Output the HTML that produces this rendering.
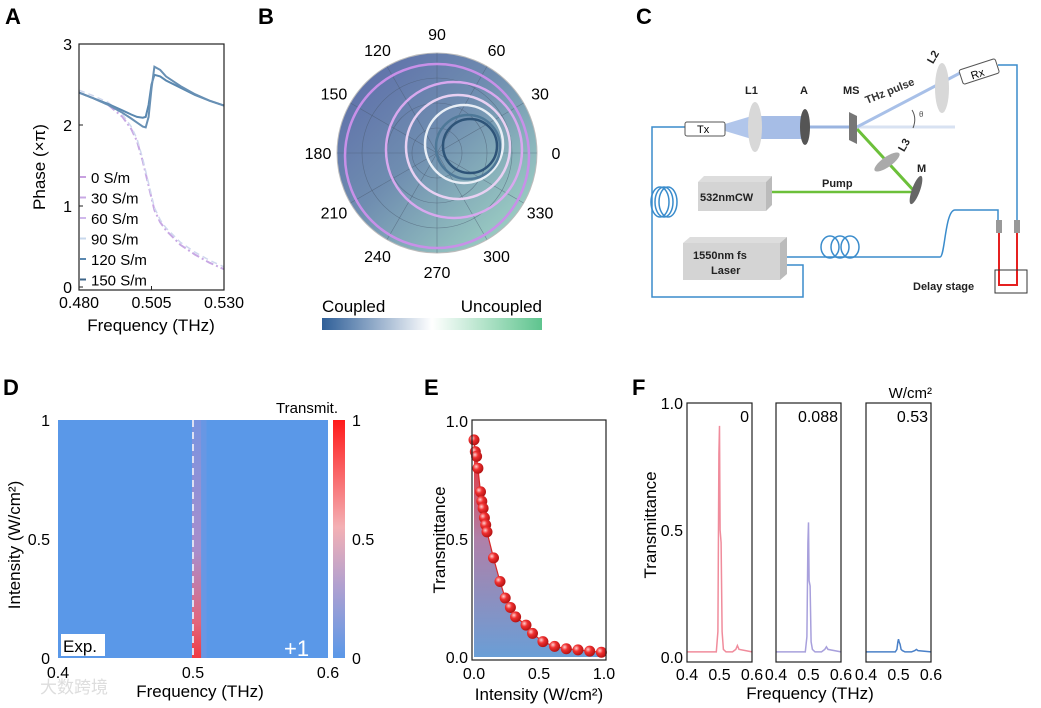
<!DOCTYPE html>
<html><head><meta charset="utf-8"><style>
html,body{margin:0;padding:0;background:#fff;}
svg{display:block;font-family:"Liberation Sans",Arial,sans-serif;}
</style></head><body>
<svg id="fig" width="1041" height="708" viewBox="0 0 1041 708" xmlns="http://www.w3.org/2000/svg">
<defs>
<linearGradient id="polarBg" x1="0" y1="0" x2="1" y2="1">
<stop offset="0" stop-color="#5a68a8"/><stop offset="0.45" stop-color="#6f8db0"/><stop offset="1" stop-color="#a8e0c8"/></linearGradient>
<linearGradient id="cbB" x1="0" y1="0" x2="1" y2="0">
<stop offset="0" stop-color="#2f5f98"/><stop offset="0.5" stop-color="#ffffff"/><stop offset="1" stop-color="#5ec48e"/></linearGradient>
<linearGradient id="cbD" x1="0" y1="0" x2="0" y2="1">
<stop offset="0" stop-color="#ff1a1a"/><stop offset="0.45" stop-color="#f4b0b4"/><stop offset="0.7" stop-color="#b0a0d0"/><stop offset="1" stop-color="#5a98e8"/></linearGradient>
<linearGradient id="stripeD" x1="0" y1="1" x2="0" y2="0">
<stop offset="0" stop-color="#ff3030"/><stop offset="0.15" stop-color="#f06070"/><stop offset="0.45" stop-color="#b08cc8"/><stop offset="1" stop-color="#7a94e0"/></linearGradient>
<linearGradient id="areaE" x1="0" y1="0" x2="0" y2="1">
<stop offset="0" stop-color="#f02828"/><stop offset="0.45" stop-color="#b080a8"/><stop offset="1" stop-color="#6a9ed6"/></linearGradient>
<radialGradient id="ball" cx="0.35" cy="0.35" r="0.7">
<stop offset="0" stop-color="#ffd0d0"/><stop offset="0.4" stop-color="#f03030"/><stop offset="1" stop-color="#b01010"/></radialGradient>
</defs>

<g font-weight="bold" font-size="22" fill="#000">
<text x="5" y="24">A</text>
<text x="258" y="24">B</text>
<text x="636" y="24">C</text>
<text x="3" y="395">D</text>
<text x="424" y="395">E</text>
<text x="632" y="395">F</text>
</g>

<g id="panelA"></g>
<g id="panelB"></g>

<g id="panelC" font-weight="bold" font-size="11">
<path d="M685,127 H652 V297 H803 V265 H780" fill="none" stroke="#3a8ccc" stroke-width="1.5"/>
<g fill="none" stroke="#3a8ccc" stroke-width="1.5">
<ellipse cx="660" cy="202" rx="9" ry="15"/><ellipse cx="664" cy="202" rx="9" ry="15"/><ellipse cx="668" cy="202" rx="9" ry="15"/></g>
<path d="M780,257 H940 C945,257 945,210 955,210 H998 V222" fill="none" stroke="#3a8ccc" stroke-width="1.5"/>
<g fill="none" stroke="#3a8ccc" stroke-width="1.5">
<ellipse cx="830" cy="247" rx="9" ry="11"/><ellipse cx="840" cy="247" rx="9" ry="11"/><ellipse cx="850" cy="247" rx="9" ry="11"/></g>
<path d="M998,65 H1017 V222" fill="none" stroke="#3a8ccc" stroke-width="1.5"/>
<rect x="996" y="220" width="6" height="13" fill="#999"/><rect x="1014" y="220" width="6" height="13" fill="#999"/>
<path d="M999,233 V285 H1017 V233" fill="none" stroke="#e52020" stroke-width="2"/>
<rect x="995" y="270" width="32" height="23" fill="none" stroke="#333" stroke-width="1"/>
<text x="913" y="290" fill="#222">Delay stage</text>
<polygon points="725,124 755,115 755,140 725,131" fill="#9db8e6" opacity="0.8"/>
<rect x="755" y="116" width="50" height="23" fill="#a6bde6"/>
<line x1="805" y1="127" x2="852" y2="127" stroke="#9ab4e0" stroke-width="3"/>
<line x1="852" y1="127" x2="955" y2="127" stroke="#d8e2f2" stroke-width="3"/>
<line x1="857" y1="127" x2="962" y2="72" stroke="#a8c0e8" stroke-width="3"/>
<path d="M912,110 Q917,118 913,128" fill="none" stroke="#555" stroke-width="1"/>
<text x="919" y="117" font-size="8" font-weight="normal" fill="#555">θ</text>
<text x="867" y="104" transform="rotate(-22 867 104)" fill="#333">THz pulse</text>
<line x1="857" y1="129" x2="915" y2="192" stroke="#6cc03a" stroke-width="3"/>
<line x1="768" y1="192" x2="915" y2="192" stroke="#6cc03a" stroke-width="2.5"/>
<text x="822" y="187" fill="#222">Pump</text>
<ellipse cx="755" cy="127" rx="7" ry="25" fill="#d8d8d8"/>
<text x="745" y="94" fill="#222">L1</text>
<ellipse cx="805" cy="127" rx="5" ry="18" fill="#555"/>
<text x="800" y="94" fill="#222">A</text>
<polygon points="849,112 857,116 857,144 849,140" fill="#777"/>
<text x="843" y="94" fill="#222">MS</text>
<ellipse cx="942" cy="88" rx="7" ry="25" fill="#d8d8d8"/>
<text x="927" y="62" transform="rotate(-60 932 58)" fill="#222">L2</text>
<rect x="960" y="64" width="38" height="15" rx="2" fill="#fff" stroke="#555" transform="rotate(-18 979 71)"/>
<text x="970" y="77" font-weight="normal" transform="rotate(-18 979 71)">Rx</text>
<ellipse cx="887" cy="162" rx="15" ry="5" fill="#aaa" transform="rotate(-35 887 162)"/>
<text x="898" y="150" transform="rotate(-60 903 146)" fill="#222">L3</text>
<ellipse cx="916" cy="190" rx="4" ry="15" fill="#666" transform="rotate(20 916 190)"/>
<text x="917" y="172" fill="#222">M</text>
<rect x="685" y="122" width="40" height="14" rx="2" fill="#fff" stroke="#555"/>
<text x="697" y="133" font-weight="normal">Tx</text>
<polygon points="698,182 704,176 772,176 766,182" fill="#ddd"/><polygon points="766,182 772,176 772,205 766,211" fill="#bbb"/>
<rect x="698" y="182" width="68" height="29" fill="#d4d4d4"/>
<text x="700" y="201" fill="#222">532nmCW</text>
<polygon points="683,243 690,237 787,237 780,243" fill="#ddd"/><polygon points="780,243 787,237 787,274 780,280" fill="#bbb"/>
<rect x="683" y="243" width="97" height="37" fill="#d4d4d4"/>
<text x="693" y="259" fill="#222">1550nm  fs</text><text x="711" y="274" fill="#222">Laser</text>
</g>

<g id="panelD"></g>
<g id="panelE"></g>
<g id="panelF"></g>
<text x="40" y="693" font-size="17" fill="#ddd" font-family="'Liberation Sans','Noto Sans CJK SC',sans-serif">大数跨境</text>
</svg>
<script>
const aFreq = [0.480,0.485,0.490,0.495,0.498,0.500,0.502,0.503,0.504,0.505,0.506,0.508,0.510,0.515,0.520,0.525,0.530];
const aPhaseUncoupled = [2.40,2.33,2.25,2.10,1.95,1.80,1.55,1.40,1.25,1.10,0.95,0.80,0.70,0.52,0.40,0.30,0.22];
const aPhase120 = [2.40,2.33,2.26,2.18,2.13,2.10,2.09,2.10,2.25,2.50,2.62,2.60,2.55,2.46,2.37,2.30,2.24];
const aPhase150 = [2.40,2.33,2.25,2.15,2.08,2.03,1.98,1.97,2.10,2.45,2.72,2.68,2.60,2.48,2.38,2.30,2.24];
const aXTicks = [0.480,0.505,0.530];
const aYTicks = [0,1,2,3];
const aLegend = ["0 S/m","30 S/m","60 S/m","90 S/m","120 S/m","150 S/m"];
const aLegendColors = ["#c8a0e0","#c8a8e4","#d0b8ec","#c8d8ec","#5a88b0","#3e6488"];

const bAngles = [0,30,60,90,120,150,180,210,240,270,300,330];
const bCircleCx = [0.00,0.17,0.21,0.27,0.31,0.33];
const bCircleCy = [0.03,-0.03,-0.06,-0.09,-0.06,-0.07];
const bCircleR = [0.92,0.68,0.52,0.39,0.32,0.27];
const bCircleColors = ["#c890e8","#d8a8ee","#e8d0f2","#e8eef6","#4e7898","#2e5478"];

const dXTicks = [0.4,0.5,0.6];
const dYTicks = [0,0.5,1];
const dCbTicks = [0,0.5,1];
const dResonance = 0.5;

const eIntensity = [0,0.01,0.02,0.03,0.05,0.06,0.07,0.08,0.09,0.10,0.15,0.20,0.24,0.28,0.32,0.40,0.45,0.53,0.62,0.71,0.80,0.89,0.98];
const eTrans = [0.92,0.87,0.85,0.80,0.70,0.66,0.63,0.59,0.56,0.53,0.42,0.32,0.25,0.21,0.17,0.135,0.10,0.065,0.045,0.035,0.03,0.025,0.02];
const eTicks = [0,0.5,1];

const fFreq = [0.40,0.45,0.49,0.495,0.498,0.500,0.502,0.505,0.508,0.512,0.52,0.54,0.55,0.555,0.56,0.60];
const fT0 = [0.02,0.02,0.02,0.10,0.80,0.91,0.50,0.45,0.10,0.03,0.02,0.02,0.03,0.045,0.03,0.02];
const fT1 = [0.02,0.02,0.02,0.08,0.45,0.53,0.30,0.28,0.06,0.03,0.02,0.02,0.03,0.04,0.03,0.02];
const fT2 = [0.02,0.02,0.02,0.03,0.06,0.07,0.06,0.05,0.03,0.025,0.02,0.02,0.025,0.03,0.025,0.02];
const fLabels = ["0","0.088","0.53"];
const fColors = ["#f08c9c","#a8a0dc","#4a80c8"];
const fXTicks = [0.4,0.5,0.6];

const NS="http://www.w3.org/2000/svg";
function mk(parent,tag,attrs,text){const e=document.createElementNS(NS,tag);for(const k in attrs)e.setAttribute(k,attrs[k]);if(text!==undefined)e.textContent=text;parent.appendChild(e);return e;}
function lin(d0,d1,r0,r1){return v=>r0+(v-d0)/(d1-d0)*(r1-r0);}
function pathOf(xs,ys,sx,sy){return xs.map((x,i)=>(i?'L':'M')+sx(x).toFixed(1)+','+sy(ys[i]).toFixed(1)).join(' ');}

(function(){
 const g=document.getElementById('panelA');
 const sx=lin(0.48,0.53,79,224), sy=lin(0,3,287,44);
 const u=mk(g,'path',{d:pathOf(aFreq,aPhaseUncoupled,sx,sy),fill:'none',stroke:'#c8a8e4','stroke-width':2,'stroke-dasharray':'8,3,2,3'});
 
 
 const u2=mk(g,'path',{d:pathOf(aFreq,aPhaseUncoupled.map(v=>v+0.03),sx,sy),fill:'none',stroke:'#d0d8ee','stroke-width':1.5,'stroke-dasharray':'6,4'});
 
 
 const s1=mk(g,'path',{d:pathOf(aFreq,aPhase120,sx,sy),fill:'none',stroke:'#5a88b0','stroke-width':2});
 
 
 const s2=mk(g,'path',{d:pathOf(aFreq,aPhase150,sx,sy),fill:'none',stroke:'#6890b4','stroke-width':2});
 
 
 const box=mk(g,'rect',{x:79,y:44,width:145,height:246,fill:'none',stroke:'#222','stroke-width':1.2});
 
 
 aYTicks.forEach(t=>{const y=sy(t);mk(g,'line',{x1:79,x2:83,y1:y,y2:y,stroke:'#222'});
  const l=mk(g,'text',{x:72,y:y+6,'font-size':16,'text-anchor':'end'},String(t));
  
  });
 aXTicks.forEach(t=>{const x=sx(t);mk(g,'line',{x1:x,x2:x,y1:290,y2:286,stroke:'#222'});
  const l=mk(g,'text',{x:x,y:308,'font-size':16,'text-anchor':'middle'},t.toFixed(3));
  
  });
 const xt=mk(g,'text',{x:151,y:331,'font-size':17,'text-anchor':'middle'},'Frequency (THz)');
 
 
 const yt=mk(g,'text',{x:45,y:167,'font-size':17,'text-anchor':'middle',transform:'rotate(-90 45 167)'},'Phase (×π)');
 
 
 aLegend.forEach((s,i)=>{const y=177+i*20.5;
  mk(g,'line',{x1:80,x2:86,y1:y,y2:y,stroke:aLegendColors[i],'stroke-width':2});
  const l=mk(g,'text',{x:91,y:y+6,'font-size':15},s);
  
  });
})();

(function(){
 const g=document.getElementById('panelB');
 const cx=437,cy=153,R=100;
 const bg=mk(g,'circle',{cx:cx,cy:cy,r:R,fill:'url(#polarBg)',stroke:'#bbb'});
 
 
 [0.25,0.5,0.75].forEach(f=>mk(g,'circle',{cx:cx,cy:cy,r:R*f,fill:'none',stroke:'#4a5a70','stroke-width':0.6,opacity:0.6}));
 bAngles.forEach(a=>{const r=a*Math.PI/180;
  mk(g,'line',{x1:cx,y1:cy,x2:cx+R*Math.cos(r),y2:cy-R*Math.sin(r),stroke:'#4a5a70','stroke-width':0.6,opacity:0.6});
  const l=mk(g,'text',{x:cx+(R+19)*Math.cos(r),y:cy-(R+19)*Math.sin(r)+6,'font-size':16,'text-anchor':'middle'},String(a));
  
  });
 bCircleR.forEach((r,i)=>{const c=mk(g,'circle',{cx:cx+bCircleCx[i]*R,cy:cy+bCircleCy[i]*R,r:r*R,fill:'none',stroke:bCircleColors[i],'stroke-width':2.5});
  
  });
 const cb=mk(g,'rect',{x:322,y:318,width:220,height:12,fill:'url(#cbB)'});
 
 
 const t1=mk(g,'text',{x:322,y:312,'font-size':17},'Coupled');
 
 
 const t2=mk(g,'text',{x:542,y:312,'font-size':17,'text-anchor':'end'},'Uncoupled');
 
 
})();

(function(){
 const g=document.getElementById('panelD');
 const sx=lin(0.4,0.6,58,328), sy=lin(0,1,658,420);
 const bg=mk(g,'rect',{x:58,y:420,width:270,height:238,fill:'#5a98e8'});
 
 
 mk(g,'rect',{x:sx(dResonance),y:420,width:sx(0.51)-sx(dResonance),height:238,fill:'#8a94dc',opacity:0.3});
 const st=mk(g,'rect',{x:sx(dResonance)-1,y:420,width:sx(0.506)-sx(dResonance)+1,height:238,fill:'url(#stripeD)',opacity:0.9});
 
 
 mk(g,'line',{x1:sx(dResonance),x2:sx(dResonance),y1:420,y2:658,stroke:'#dde0f2','stroke-width':2,'stroke-dasharray':'7,5'});
 const cb=mk(g,'rect',{x:333,y:420,width:12,height:238,fill:'url(#cbD)'});
 
 
 dCbTicks.forEach(t=>{const l=mk(g,'text',{x:352,y:sy(t)+6,'font-size':16},String(t));
  
  });
 const ct=mk(g,'text',{x:338,y:413,'font-size':15,'text-anchor':'end'},'Transmit.');
 
 
 dYTicks.forEach(t=>{const l=mk(g,'text',{x:50,y:sy(t)+6,'font-size':16,'text-anchor':'end'},String(t));
  
  });
 dXTicks.forEach(t=>{const l=mk(g,'text',{x:sx(t),y:678,'font-size':16,'text-anchor':'middle'},String(t));
  
  });
 const xt=mk(g,'text',{x:200,y:697,'font-size':17,'text-anchor':'middle'},'Frequency (THz)');
 
 
 const yt=mk(g,'text',{x:20,y:545,'font-size':17,'text-anchor':'middle',transform:'rotate(-90 20 545)'},'Intensity (W/cm²)');
 
 
 mk(g,'rect',{x:61,y:634,width:44,height:22,fill:'#fff'});
 const ex=mk(g,'text',{x:63,y:652,'font-size':17},'Exp.');
 
 
 const p1=mk(g,'text',{x:284,y:656,'font-size':22,fill:'#fff'},'+1');
 
 
})();

(function(){
 const g=document.getElementById('panelE');
 const sx=lin(0,1,474,604), sy=lin(0,1,657,421);
 const area=pathOf(eIntensity,eTrans,sx,sy)+` L${sx(eIntensity[eIntensity.length-1])},${sy(0)} L${sx(0)},${sy(0)} Z`;
 const a=mk(g,'path',{d:area,fill:'url(#areaE)'});
 
 
 const ln=mk(g,'path',{d:pathOf(eIntensity,eTrans,sx,sy),fill:'none',stroke:'#d82828','stroke-width':1.2});
 
 
 eIntensity.forEach((x,i)=>{const c=mk(g,'circle',{cx:sx(x),cy:sy(eTrans[i]),r:5.5,fill:'url(#ball)'});
  
  });
 const box=mk(g,'rect',{x:472,y:420,width:134,height:240,fill:'none',stroke:'#222','stroke-width':1.2});
 
 
 eTicks.forEach(t=>{const l=mk(g,'text',{x:468,y:sy(t)+6,'font-size':16,'text-anchor':'end'},t.toFixed(1));
  
  
  const lx=mk(g,'text',{x:sx(t),y:679,'font-size':16,'text-anchor':'middle'},t.toFixed(1));
  
  });
 const xt=mk(g,'text',{x:539,y:700,'font-size':17,'text-anchor':'middle'},'Intensity (W/cm²)');
 
 
 const yt=mk(g,'text',{x:445,y:540,'font-size':17,'text-anchor':'middle',transform:'rotate(-90 445 540)'},'Transmittance');
 
 
})();

(function(){
 const g=document.getElementById('panelF');
 const lefts=[687,776,866], W=65;
 const sy=lin(0,1,657,403);
 const series=[fT0,fT1,fT2];
 lefts.forEach((L,k)=>{
  const sx=lin(0.4,0.6,L,L+W);
  const p=mk(g,'path',{d:pathOf(fFreq,series[k],sx,sy),fill:'none',stroke:fColors[k],'stroke-width':1.5});
  
  
  const b=mk(g,'rect',{x:L,y:403,width:W,height:259,fill:'none',stroke:'#222','stroke-width':1.2});
  
  
  const lb=mk(g,'text',{x:L+W-3,y:422,'font-size':16,'text-anchor':'end'},fLabels[k]);
  
  
  fXTicks.forEach(t=>{const l=mk(g,'text',{x:sx(t),y:680,'font-size':16,'text-anchor':'middle'},String(t));
   
   });
 });
 [0,0.5,1].forEach(t=>{const l=mk(g,'text',{x:683,y:sy(t)+6,'font-size':16,'text-anchor':'end'},t.toFixed(1));
  
  });
 const u=mk(g,'text',{x:932,y:398,'font-size':15,'text-anchor':'end'},'W/cm²');
 
 
 const xt=mk(g,'text',{x:810,y:699,'font-size':17,'text-anchor':'middle'},'Frequency  (THz)');
 
 
 const yt=mk(g,'text',{x:656,y:525,'font-size':17,'text-anchor':'middle',transform:'rotate(-90 656 525)'},'Transmittance');
 
 
})();
</script>
</body></html>
